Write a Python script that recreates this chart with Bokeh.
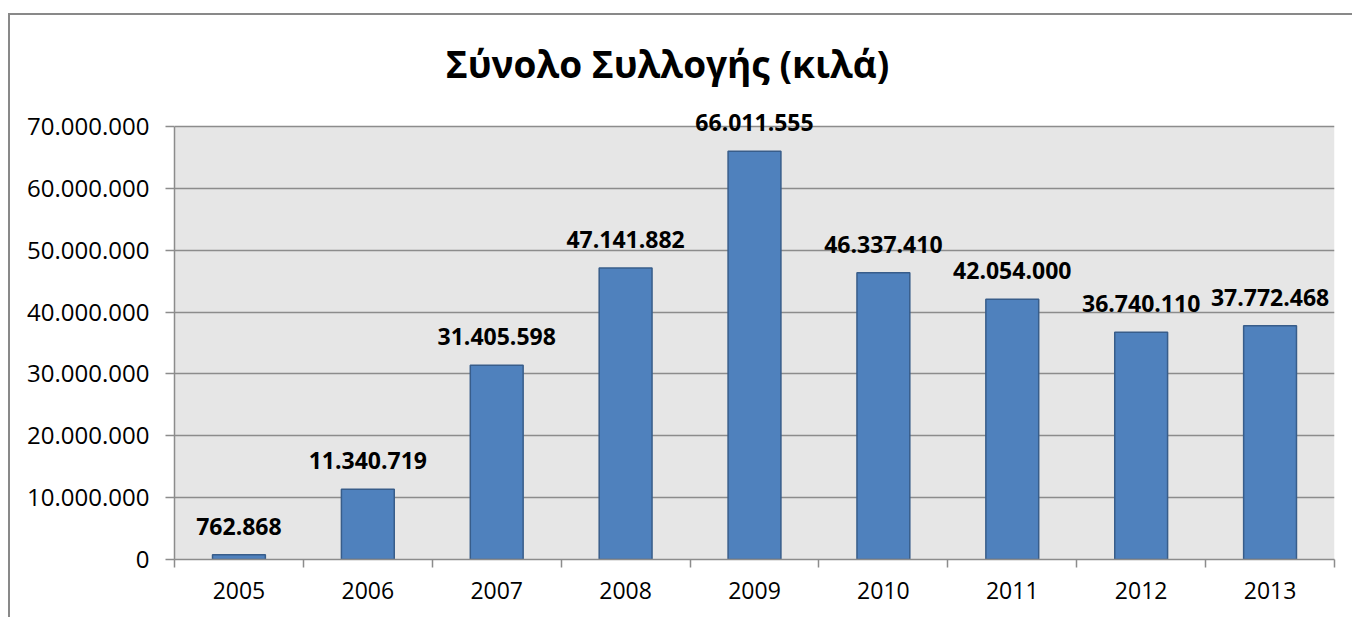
from bokeh.plotting import figure
from bokeh.models import FixedTicker, Range1d, ColumnDataSource, LabelSet, Label
from bokeh.core.properties import value
from bokeh.embed import file_html
from bokeh.resources import INLINE

years = ["2005", "2006", "2007", "2008", "2009", "2010", "2011", "2012", "2013"]
totals = [762868, 11340719, 31405598, 47141882, 66011555, 46337410, 42054000, 36740110, 37772468]
y_ticks = [0, 10000000, 20000000, 30000000, 40000000, 50000000, 60000000, 70000000]
title_text = "Σύνολο Συλλογής (κιλά)"


def fmt(v):
    return f"{v:,}".replace(",", ".")


FONT = "Open Sans"
GRID = "#8c8c8c"
Y_MAX = y_ticks[-1]
PLOT_H = 433        # height of the grey plot area in px
FRAME_H = 539       # frame height (extends above the plot area for labels / title)
xs = [i + 0.5 for i in range(len(years))]
src = ColumnDataSource(dict(x=xs, top=totals, label=[fmt(v) for v in totals]))

p = figure(width=1344, height=604, output_backend="svg", toolbar_location=None,
           x_range=Range1d(0, len(years)), y_range=Range1d(0, Y_MAX * FRAME_H / PLOT_H),
           min_border_left=164, min_border_right=20, min_border_top=5, min_border_bottom=60,
           margin=(13, 0, 0, 8),
           styles={"border-left": "2px solid #898989", "border-top": "2px solid #898989"})

p.background_fill_color = "#ffffff"
p.border_fill_color = "#ffffff"
p.outline_line_color = None

# grey plot area
p.quad(left=[0], right=[len(years)], bottom=[0], top=[Y_MAX], fill_color="#e6e6e6",
       line_color=None, level="image")

p.vbar(x="x", top="top", width=0.41, source=src, fill_color="#4f81bd",
       line_color="#385d8a", line_width=1.5)
p.add_layout(LabelSet(x="x", y="top", text="label", source=src, text_align="center",
                      text_baseline="alphabetic", y_offset=20, text_font=value(FONT),
                      text_font_style="bold", text_font_size="23px", text_color="#000000",
                      level="overlay"))

p.add_layout(Label(x=493, y=496, x_units="screen", y_units="screen", text=title_text,
                   text_align="center", text_baseline="alphabetic", text_font=FONT,
                   text_font_style="bold", text_font_size="37px", text_color="#000000"))

# x axis
p.xaxis.ticker = FixedTicker(ticks=xs, minor_ticks=list(range(len(years) + 1)))
p.xaxis.major_label_overrides = {x: y for x, y in zip(xs, years)}
p.xaxis.major_tick_out = 0
p.xaxis.major_tick_in = 0
p.xaxis.minor_tick_out = 8
p.xaxis.minor_tick_in = 0
p.xaxis.minor_tick_line_color = GRID
p.xaxis.minor_tick_line_width = 1.5
p.xaxis.axis_line_color = GRID
p.xaxis.axis_line_width = 1.5
p.xaxis.major_label_standoff = 14
p.xaxis.major_label_text_font = FONT
p.xaxis.major_label_text_font_size = "23px"
p.xaxis.major_label_text_color = "#000000"

# y axis
p.yaxis.ticker = FixedTicker(ticks=y_ticks, minor_ticks=[])
p.yaxis.bounds = (0, Y_MAX)
p.yaxis.major_label_overrides = {t: fmt(t) for t in y_ticks}
p.yaxis.major_tick_out = 9
p.yaxis.major_tick_in = 0
p.yaxis.major_tick_line_color = GRID
p.yaxis.major_tick_line_width = 1.5
p.yaxis.axis_line_color = GRID
p.yaxis.axis_line_width = 1.5
p.yaxis.major_label_standoff = 16
p.yaxis.major_label_text_font = FONT
p.yaxis.major_label_text_font_size = "24px"
p.yaxis.major_label_text_color = "#000000"

p.xgrid.grid_line_color = None
p.ygrid.ticker = FixedTicker(ticks=y_ticks)
p.ygrid.grid_line_color = GRID
p.ygrid.grid_line_width = 1.5

open("out.html", "w").write(file_html(p, INLINE))
